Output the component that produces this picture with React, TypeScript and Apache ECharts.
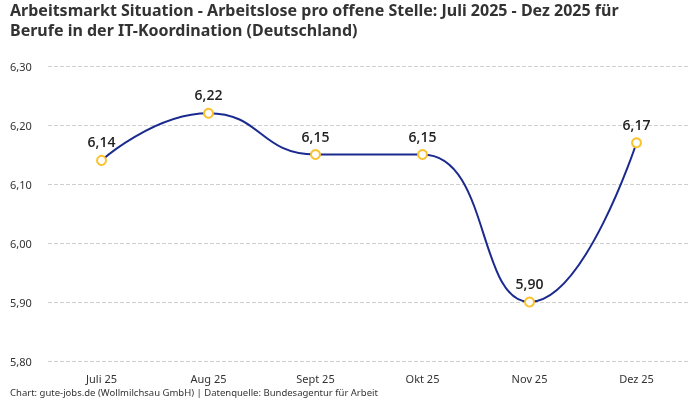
import { useEffect, useRef } from 'react';
import * as echarts from 'echarts';

const months = ['Juli 25', 'Aug 25', 'Sept 25', 'Okt 25', 'Nov 25', 'Dez 25'];
const ratio = [6.14, 6.22, 6.15, 6.15, 5.9, 6.17];

const fmt = (v: number) => v.toFixed(2).replace('.', ',');

export default function App() {
  const chartRef = useRef<HTMLDivElement>(null);

  useEffect(() => {
    const chart = echarts.init(chartRef.current, null, { renderer: 'svg' });
    chart.setOption({
      animation: false,
      textStyle: { fontFamily: 'Noto Sans' },
      title: {
        text: 'Arbeitsmarkt Situation - Arbeitslose pro offene Stelle: Juli 2025 - Dez 2025 für\nBerufe in der IT-Koordination (Deutschland)',
        left: 10,
        top: 0,
        padding: 0,
        textStyle: { fontSize: 16, fontWeight: 'bold', color: '#333', lineHeight: 20 },
      },
      graphic: [
        {
          type: 'text',
          left: 10,
          top: 387,
          style: {
            text: 'Chart: gute-jobs.de (Wollmilchsau GmbH) | Datenquelle: Bundesagentur für Arbeit',
            fontSize: 9.5,
            fill: '#333',
            fontFamily: 'Noto Sans',
          },
        },
      ],
      grid: { left: 48, right: 10, top: 66, bottom: 39 },
      xAxis: {
        type: 'category',
        data: months,
        boundaryGap: true,
        axisLine: { show: false },
        axisTick: { show: false },
        axisLabel: { color: '#333', fontSize: 11, margin: 12 },
      },
      yAxis: {
        type: 'value',
        min: 5.8,
        max: 6.3,
        interval: 0.1,
        axisLabel: {
          color: '#333',
          fontSize: 11,
          formatter: (v: number) => fmt(v),
          align: 'left',
          margin: 38,
        },
        splitLine: { lineStyle: { type: 'dashed', color: '#cfcfcf' } },
      },
      series: [
        {
          type: 'line',
          data: ratio,
          smooth: 0.5,
          symbol: 'circle',
          symbolSize: 9,
          lineStyle: { color: '#1a2a8e', width: 2 },
          itemStyle: { color: '#ffffff', borderColor: '#f9c22e', borderWidth: 2 },
          label: {
            show: true,
            position: 'top',
            distance: 6,
            formatter: (p: any) => fmt(p.value),
            fontSize: 14,
            fontWeight: 600,
            color: '#222',
            fontFamily: 'Open Sans',
          },
        },
      ],
    });
    return () => chart.dispose();
  }, []);

  return (
    <div
      ref={chartRef}
      style={{ position: 'fixed', left: 0, top: 0, width: '700px', height: '400px' }}
    />
  );
}
